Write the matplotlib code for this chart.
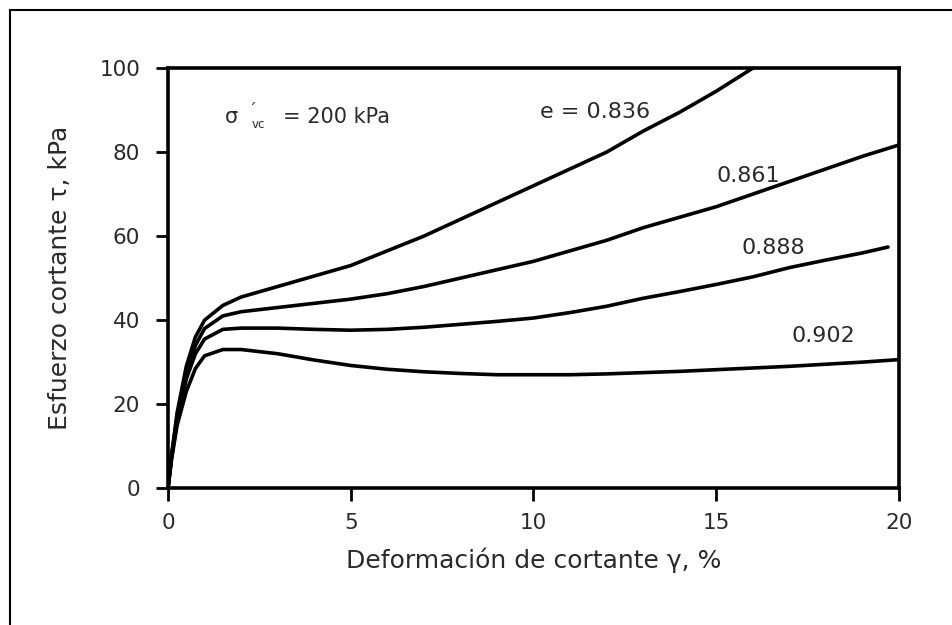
import matplotlib.pyplot as plt
from matplotlib.lines import Line2D

# strain (%) and shear stress (kPa), one pair per void ratio
gamma_836 = [0, 0.1, 0.25, 0.5, 0.75, 1.0, 1.5, 2, 3, 4, 5, 6, 7, 8, 9, 10, 11, 12, 13, 14, 15, 16]
tau_836 = [0, 8, 18, 29, 36, 40, 43.5, 45.5, 48, 50.5, 53, 56.5, 60, 64, 68, 72, 76, 80, 85, 89.5, 94.5, 100]

gamma_861 = [0, 0.1, 0.25, 0.5, 0.75, 1, 1.5, 2, 3, 4, 5, 6, 7, 8, 9, 10, 11, 12, 13, 14, 15, 16, 17, 18, 19, 20]
tau_861 = [0, 8, 17, 27, 34, 38, 41, 42, 43, 44, 45, 46.3, 48, 50, 52, 54, 56.5, 59, 62, 64.5, 67, 70, 73, 76, 79, 81.7]

gamma_888 = [0, 0.1, 0.25, 0.5, 0.75, 1, 1.5, 2, 3, 4, 5, 6, 7, 8, 9, 10, 11, 12, 13, 14, 15, 16, 17, 18, 19, 19.7]
tau_888 = [0, 7.5, 16, 26, 32, 35.5, 37.8, 38.1, 38.1, 37.8, 37.6, 37.8, 38.3, 39, 39.7, 40.5, 41.8, 43.3,
           45.2, 46.8, 48.5, 50.3, 52.5, 54.3, 56, 57.4]

gamma_902 = [0, 0.1, 0.25, 0.5, 0.75, 1, 1.5, 2, 3, 4, 5, 6, 7, 8, 9, 10, 11, 12, 13, 14, 15, 16, 17, 18, 19, 20]
tau_902 = [0, 7, 15, 23, 28.5, 31.5, 33, 33, 32, 30.5, 29.2, 28.3, 27.7, 27.3, 27, 27, 27, 27.2, 27.5,
           27.8, 28.2, 28.6, 29, 29.5, 30, 30.6]

x_ticks = [0, 5, 10, 15, 20]
y_ticks = [0, 20, 40, 60, 80, 100]

txt = '#2a2a2a'
plt.rcParams['font.family'] = ['DejaVu Sans']

fig = plt.figure(figsize=(9.53, 6.25), dpi=100)
ax = fig.add_axes([0.1763, 0.219, 0.767, 0.672])

for g, t in [(gamma_836, tau_836), (gamma_861, tau_861), (gamma_888, tau_888), (gamma_902, tau_902)]:
    ax.plot(g, t, color='black', lw=2.6, solid_capstyle='round')

ax.set_xlim(0, 20)
ax.set_ylim(0, 100)
ax.set_xticks(x_ticks)
ax.set_yticks(y_ticks)
for s in ax.spines.values():
    s.set_linewidth(2.6)
ax.tick_params(axis='both', direction='out', width=2, length=9, labelsize=15.5, colors='black',
               labelcolor=txt)
ax.tick_params(axis='y', pad=11)
ax.tick_params(axis='x', pad=9)

ax.set_xlabel('Deformación de cortante γ, %', fontsize=18, color=txt, labelpad=10)
ax.set_ylabel('Esfuerzo cortante τ, kPa', fontsize=18, color=txt, labelpad=20)

# curve labels
ax.text(10.18, 89.5, 'e = 0.836', fontsize=16, color=txt, va='center')
ax.text(15.0, 74.3, '0.861', fontsize=16, color=txt, va='center')
ax.text(15.7, 57.1, '0.888', fontsize=16, color=txt, va='center')
ax.text(17.07, 36.2, '0.902', fontsize=16, color=txt, va='center')

# confining stress note
ax.text(1.56, 88.3, 'σ', fontsize=15, color=txt, va='center')
ax.text(2.2, 89.8, '´', fontsize=11, color=txt, va='center')
ax.text(2.3, 85.7, 'vc', fontsize=8.5, color=txt, va='baseline')
ax.text(3.15, 88.3, '= 200 kPa', fontsize=15, color=txt, va='center')

# page frame (top and left edges only)
fig.add_artist(Line2D([10 / 953, 1], [1 - 10 / 625, 1 - 10 / 625], color='black', lw=1.5))
fig.add_artist(Line2D([10 / 953, 10 / 953], [0, 1 - 10 / 625], color='black', lw=1.5))

fig.savefig('out.png', dpi=100)
